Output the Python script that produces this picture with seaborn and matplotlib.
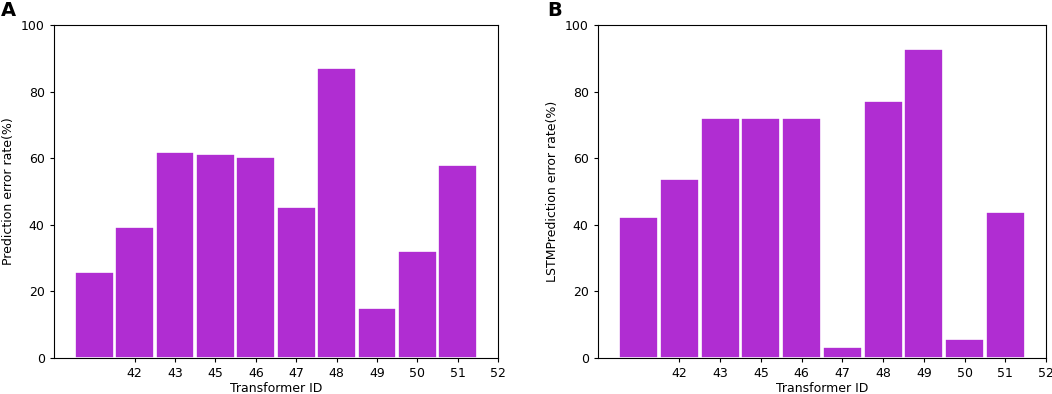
import numpy as np
import matplotlib
matplotlib.use("Agg")
import matplotlib.pyplot as plt
import seaborn as sns

sns.set_style("ticks")
plt.rcParams['font.family'] = ['DejaVu Sans']
plt.rcParams['font.size'] = 9
plt.rcParams['text.color'] = 'black'
plt.rcParams['axes.labelcolor'] = 'black'
plt.rcParams['xtick.color'] = 'black'
plt.rcParams['ytick.color'] = 'black'
plt.rcParams['xtick.labelsize'] = 9
plt.rcParams['ytick.labelsize'] = 9
plt.rcParams['axes.labelsize'] = 9
plt.rcParams['xtick.major.size'] = 3.2
plt.rcParams['ytick.major.size'] = 3.2

# bar positions and tick labels
positions = list(range(10))
tick_pos = list(range(1, 11))
tick_labels = ['42', '43', '45', '46', '47', '48', '49', '50', '51', '52']

# 预测误差率
err_a = [25.8, 39.3, 61.9, 61.3, 60.4, 45.3, 87.1, 15.0, 32.2, 57.9]
err_b = [42.2, 53.8, 72.1, 72.0, 72.0, 3.3, 77.2, 92.7, 5.6, 43.7]

bar_color = '#B02DD2'

fig = plt.figure(figsize=(10.52, 3.94), dpi=100)
ax1 = fig.add_axes([54/1052, 36/394, 444/1052, 333/394])
ax2 = fig.add_axes([598/1052, 36/394, 448/1052, 333/394])

panels = [(ax1, err_a, 'Prediction error rate(%)', 'A', 0.0),
          (ax2, err_b, 'LSTMPrediction error rate(%)', 'B', 546/1052)]

for ax, vals, ylab, letter, lx in panels:
    sns.barplot(x=positions, y=vals, native_scale=True, width=0.96,
                color=bar_color, saturation=1, edgecolor='white',
                linewidth=1.2, ax=ax)
    ax.set_xlim(-1, 10)
    ax.set_ylim(0, 100)
    ax.set_xticks(tick_pos)
    ax.set_xticklabels(tick_labels)
    ax.set_yticks([0, 20, 40, 60, 80, 100])
    ax.set_xlabel('Transformer ID', labelpad=1)
    ax.set_ylabel(ylab)
    for s in ax.spines.values():
        s.set_visible(True)
        s.set_color('black')
    fig.text(lx + 1/1052, 1 - 1/394, letter, fontsize=14, fontweight='bold',
             ha='left', va='top')

fig.savefig('out.png', dpi=100)
